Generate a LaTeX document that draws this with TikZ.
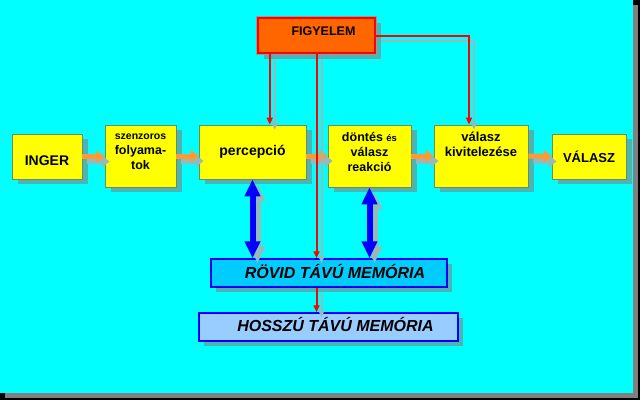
\documentclass[tikz,border=0pt]{standalone}
\usepackage{fontspec}
\setmainfont{Liberation Sans}
\usetikzlibrary{arrows.meta,shadows}

\definecolor{bgcyan}{RGB}{0,255,255}
\definecolor{boxyellow}{RGB}{255,255,0}
\definecolor{boxline}{RGB}{110,140,90}
\definecolor{shade}{RGB}{77,179,179}
\definecolor{lshade}{RGB}{150,185,185}
\definecolor{figyfill}{RGB}{255,102,0}
\definecolor{rovidfill}{RGB}{0,204,255}
\definecolor{hosszfill}{RGB}{153,204,255}
\definecolor{arrorange}{RGB}{255,153,51}

\begin{document}
\begin{tikzpicture}[x=1pt,y=-1pt,
    box/.style={draw=boxline, fill=boxyellow, line width=0.8pt, inner sep=0pt,
      align=center, font=\fontsize{14}{16}\selectfont\bfseries,
      drop shadow={shadow xshift=6pt,shadow yshift=-5pt,fill=shade,opacity=1}},
    mem/.style={draw=blue, line width=1.5pt, inner sep=0pt,
      font=\fontsize{16}{18}\selectfont\bfseries\itshape,
      drop shadow={shadow xshift=5pt,shadow yshift=-5pt,fill=shade,opacity=1}},
    lshadow/.style={preaction={draw=lshade, line width=#1, transform canvas={shift={(5pt,-5pt)}}}},
    redline/.style={draw=red, line width=2pt, -{Triangle[length=7pt,width=6pt]}, lshadow=2pt},
    flow/.style={draw=arrorange, line width=5pt, -{Triangle[length=8pt,width=12pt]}, lshadow=5pt},
    memlink/.style={draw=blue, line width=6pt, lshadow=6pt,
      {Triangle[length=17pt,width=15pt]}-{Triangle[length=17pt,width=15pt]}}]

  % background
  \useasboundingbox (0,0) rectangle (640,400);
  \fill[black] (0,0) rectangle (640,400);
  \fill[gray] (5,5) rectangle (638,398);
  \fill[bgcyan] (0,0) rectangle (633,393);

  % main chain
  \node[box, minimum width=70pt, text height=31pt, text depth=14pt] (inger) at (47,156.5) {INGER};
  \node[box, minimum width=71pt, text height=44pt, text depth=18pt,
    font=\fontsize{12.5}{15}\selectfont\bfseries] (szenz) at (140.5,156)
    {{\fontsize{10.5}{15}\selectfont szenzoros}\\folyama-\\tok};
  \node[box, minimum width=107pt, text height=30pt, text depth=24pt] (perc) at (252.5,152) {percepció};
  \node[box, minimum width=83pt, text height=46pt, text depth=16pt,
    font=\fontsize{12.5}{15}\selectfont\bfseries] (dontes) at (369.5,156)
    {döntés {\fontsize{9.5}{15}\selectfont és}\\válasz\\reakció};
  \node[box, minimum width=94pt, text height=31pt, text depth=31pt,
    font=\fontsize{13}{15}\selectfont\bfseries] (kivit) at (481,156)
    {válasz\\kivitelezése};
  \node[box, minimum width=74pt, text height=28pt, text depth=17pt,
    font=\fontsize{13}{15}\selectfont\bfseries] (valasz) at (589,156.5) {VÁLASZ};

  % attention
  \node[box, fill=figyfill, draw=red, line width=2.5pt, minimum width=117pt,
    text height=17pt, text depth=18pt, font=\fontsize{12.5}{15}\selectfont\bfseries,
    drop shadow={shadow xshift=6pt,shadow yshift=-6pt,fill=shade,opacity=1},
    preaction={draw=gray!80, line width=4.5pt}] (figy) at (316.5,35.5) {\hspace*{14pt}FIGYELEM};

  % memories
  \node[mem, fill=rovidfill, minimum width=236pt, text height=19pt, text depth=9pt]
    (rovid) at (329,273) {\hspace*{12pt}RÖVID TÁVÚ MEMÓRIA};
  \node[mem, fill=hosszfill, minimum width=259pt, text height=18pt, text depth=10pt]
    (hossz) at (328.5,327) {\hspace*{14pt}HOSSZÚ TÁVÚ MEMÓRIA};

  % flow arrows
  \draw[flow] (inger.east) -- (inger.east -| szenz.west);
  \draw[flow] (szenz.east) -- (szenz.east -| perc.west);
  \draw[flow] (perc.east |- dontes.west) -- (dontes.west);
  \draw[flow] (dontes.east) -- (kivit.west);
  \draw[flow] (kivit.east) -- (valasz.west);

  % attention lines
  \coordinate (r1) at ([xshift=13pt]figy.south west);
  \coordinate (r3) at ([xshift=-12pt]kivit.north);
  \draw[redline] (r1) -- (r1 |- perc.north);
  \draw[redline] (figy.south) -- (figy.south |- rovid.north);
  \draw[redline] (figy.east) -| (r3);
  \draw[redline] (figy.south |- rovid.south) -- (figy.south |- hossz.north);

  % memory links
  \draw[memlink] (perc.south) -- (perc.south |- rovid.north);
  \draw[memlink] (dontes.south) -- (dontes.south |- rovid.north);
\end{tikzpicture}
\end{document}
